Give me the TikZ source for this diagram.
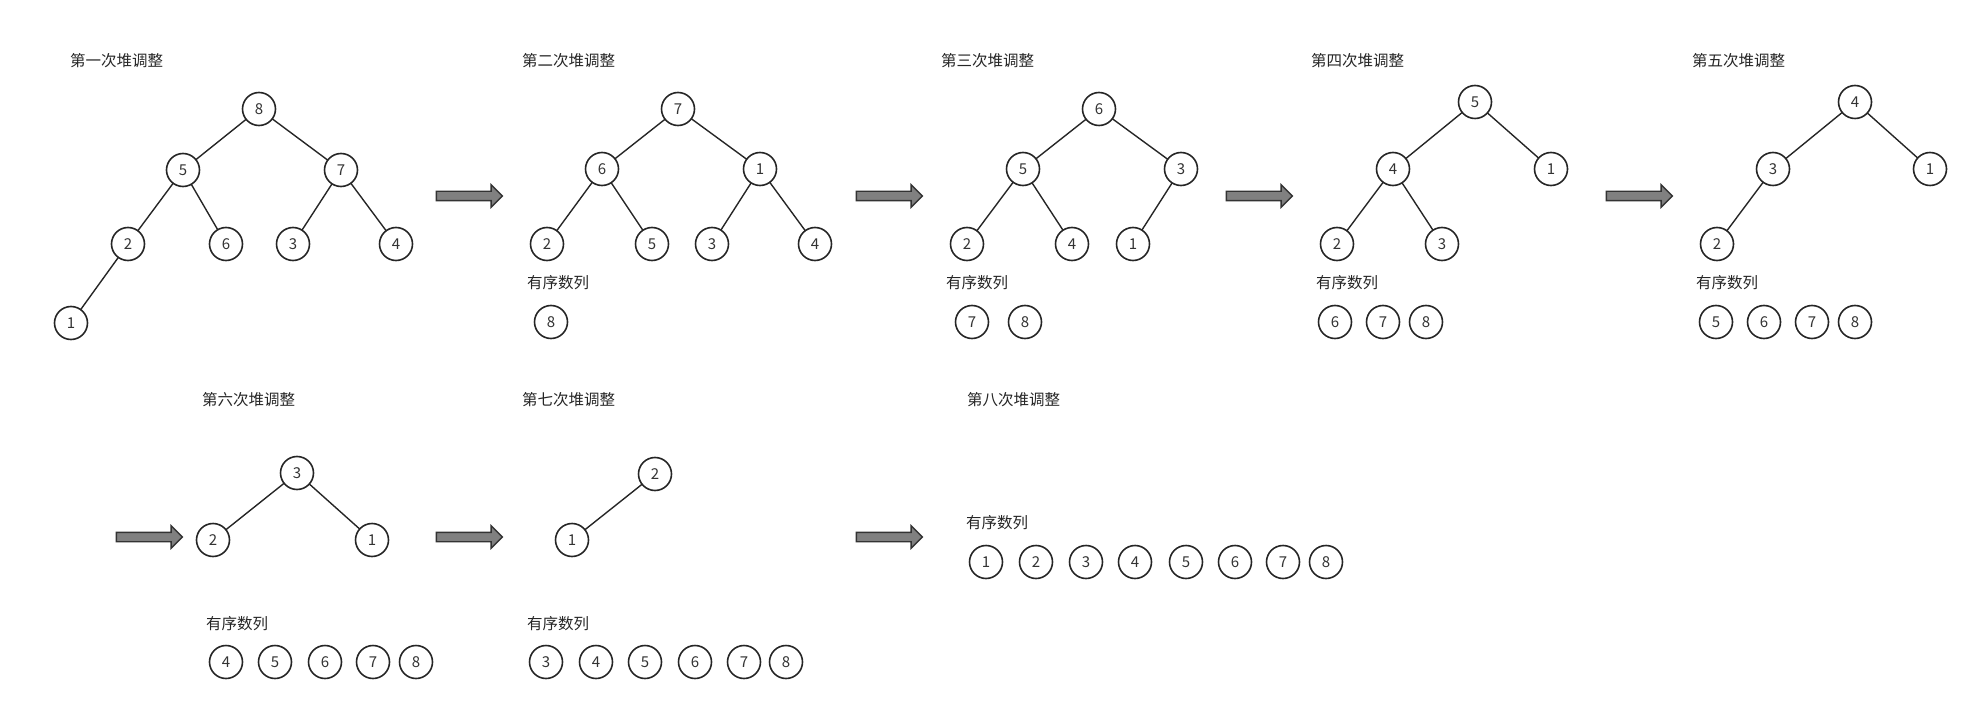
\documentclass[tikz,border=0pt]{standalone}
\usepackage{fontspec}
\setmainfont{Noto Sans CJK SC}
\usetikzlibrary{shapes.arrows}

\begin{document}
\begin{tikzpicture}[x=1pt,y=-1pt,inner sep=0pt,outer sep=0pt,
key/.style={draw=black!85,circle,minimum size=33pt,line width=1.6pt,text=black!80,font=\fontsize{15}{18}\selectfont},
lbl/.style={anchor=west,text=black!85,font=\fontsize{15.5}{18}\selectfont},
edge/.style={draw=black!85,line width=1.4pt},
bigarrow/.style={single arrow,draw=black!80,fill=black!50,line width=1.4pt,inner sep=4pt,
  single arrow head extend=6.5pt,minimum height=66pt}]

\useasboundingbox (0,0) rectangle (1980,711);

% first adjustment
\draw (70,61) node[lbl] (h1) {第一次堆调整};
\draw (259,109) node[key] (a8) {8};
\draw (183,170) node[key] (a5) {5};
\draw (341,170) node[key] (a7) {7};
\draw (128,244) node[key] (a2) {2};
\draw (226,244) node[key] (a6) {6};
\draw (293,244) node[key] (a3) {3};
\draw (396,244) node[key] (a4) {4};
\draw (71,323) node[key] (a1) {1};
\draw[edge] (a8) -- (a5);
\draw[edge] (a8) -- (a7);
\draw[edge] (a5) -- (a2);
\draw[edge] (a5) -- (a6);
\draw[edge] (a7) -- (a3);
\draw[edge] (a7) -- (a4);
\draw[edge] (a2) -- (a1);

\draw (467,196) node[bigarrow] (r1) {};

% second adjustment
\draw (522,61) node[lbl] (h2) {第二次堆调整};
\draw (678,109) node[key] (b7) {7};
\draw (602,169) node[key] (b6) {6};
\draw (760,169) node[key] (b1) {1};
\draw (547,244) node[key] (b2) {2};
\draw (652,244) node[key] (b5) {5};
\draw (712,244) node[key] (b3) {3};
\draw (815,244) node[key] (b4) {4};
\draw[edge] (b7) -- (b6);
\draw[edge] (b7) -- (b1);
\draw[edge] (b6) -- (b2);
\draw[edge] (b6) -- (b5);
\draw[edge] (b1) -- (b3);
\draw[edge] (b1) -- (b4);
\draw (527,283) node[lbl] (s2) {有序数列};
\draw (551,322) node[key] (sb8) {8};

\draw (887,196) node[bigarrow] (r2) {};

% third adjustment
\draw (941,61) node[lbl] (h3) {第三次堆调整};
\draw (1099,109) node[key] (c6) {6};
\draw (1023,169) node[key] (c5) {5};
\draw (1181,169) node[key] (c3) {3};
\draw (967,244) node[key] (c2) {2};
\draw (1072,244) node[key] (c4) {4};
\draw (1133,244) node[key] (c1) {1};
\draw[edge] (c6) -- (c5);
\draw[edge] (c6) -- (c3);
\draw[edge] (c5) -- (c2);
\draw[edge] (c5) -- (c4);
\draw[edge] (c3) -- (c1);
\draw (946,283) node[lbl] (s3) {有序数列};
\draw (972,322) node[key] (sc7) {7};
\draw (1025,322) node[key] (sc8) {8};

\draw (1257,196) node[bigarrow] (r3) {};

% fourth adjustment
\draw (1311,61) node[lbl] (h4) {第四次堆调整};
\draw (1475,102) node[key] (d5) {5};
\draw (1393,169) node[key] (d4) {4};
\draw (1551,169) node[key] (d1) {1};
\draw (1337,244) node[key] (d2) {2};
\draw (1442,244) node[key] (d3) {3};
\draw[edge] (d5) -- (d4);
\draw[edge] (d5) -- (d1);
\draw[edge] (d4) -- (d2);
\draw[edge] (d4) -- (d3);
\draw (1316,283) node[lbl] (s4) {有序数列};
\draw (1335,322) node[key] (sd6) {6};
\draw (1383,322) node[key] (sd7) {7};
\draw (1426,322) node[key] (sd8) {8};

\draw (1637,196) node[bigarrow] (r4) {};

% fifth adjustment
\draw (1692,61) node[lbl] (h5) {第五次堆调整};
\draw (1855,102) node[key] (e4) {4};
\draw (1773,169) node[key] (e3) {3};
\draw (1930,169) node[key] (e1) {1};
\draw (1717,244) node[key] (e2) {2};
\draw[edge] (e4) -- (e3);
\draw[edge] (e4) -- (e1);
\draw[edge] (e3) -- (e2);
\draw (1696,283) node[lbl] (s5) {有序数列};
\draw (1716,322) node[key] (se5) {5};
\draw (1764,322) node[key] (se6) {6};
\draw (1812,322) node[key] (se7) {7};
\draw (1855,322) node[key] (se8) {8};

\draw (147,537) node[bigarrow] (r5) {};

% sixth adjustment
\draw (202,400) node[lbl] (h6) {第六次堆调整};
\draw (297,473) node[key] (f3) {3};
\draw (213,540) node[key] (f2) {2};
\draw (372,540) node[key] (f1) {1};
\draw[edge] (f3) -- (f2);
\draw[edge] (f3) -- (f1);
\draw (206,624) node[lbl] (s6) {有序数列};
\draw (226,662) node[key] (sf4) {4};
\draw (275,662) node[key] (sf5) {5};
\draw (325,662) node[key] (sf6) {6};
\draw (373,662) node[key] (sf7) {7};
\draw (416,662) node[key] (sf8) {8};

\draw (467,537) node[bigarrow] (r6) {};

% seventh adjustment
\draw (522,400) node[lbl] (h7) {第七次堆调整};
\draw (655,474) node[key] (g2) {2};
\draw (572,540) node[key] (g1) {1};
\draw[edge] (g2) -- (g1);
\draw (527,624) node[lbl] (s7) {有序数列};
\draw (546,662) node[key] (sg3) {3};
\draw (596,662) node[key] (sg4) {4};
\draw (645,662) node[key] (sg5) {5};
\draw (695,662) node[key] (sg6) {6};
\draw (744,662) node[key] (sg7) {7};
\draw (786,662) node[key] (sg8) {8};

\draw (887,537) node[bigarrow] (r7) {};

% eighth adjustment
\draw (967,400) node[lbl] (h8) {第八次堆调整};
\draw (966,523) node[lbl] (s8) {有序数列};
\draw (986,562) node[key] (sh1) {1};
\draw (1036,562) node[key] (sh2) {2};
\draw (1086,562) node[key] (sh3) {3};
\draw (1135,562) node[key] (sh4) {4};
\draw (1186,562) node[key] (sh5) {5};
\draw (1235,562) node[key] (sh6) {6};
\draw (1283,562) node[key] (sh7) {7};
\draw (1326,562) node[key] (sh8) {8};
\end{tikzpicture}
\end{document}
